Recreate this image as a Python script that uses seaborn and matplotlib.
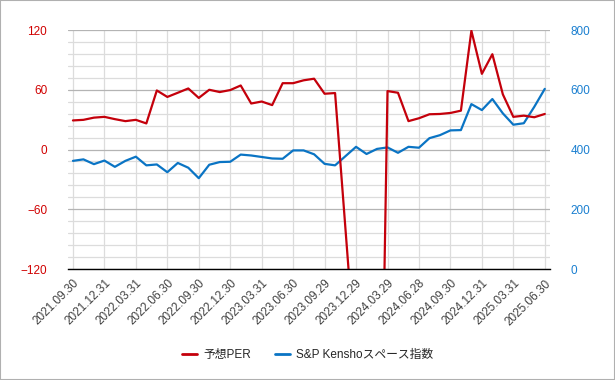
import numpy as np
import pandas as pd
import seaborn as sns
import matplotlib.pyplot as plt
from matplotlib.lines import Line2D
from matplotlib.patches import Rectangle
from matplotlib.ticker import MultipleLocator

# quarterly tick labels (data is monthly, 3 points per label)
x_labels = ["2021.09.30", "2021.12.31", "2022.03.31", "2022.06.30", "2022.09.30",
            "2022.12.30", "2023.03.31", "2023.06.30", "2023.09.29", "2023.12.29",
            "2024.03.29", "2024.06.28", "2024.09.30", "2024.12.31", "2025.03.31",
            "2025.06.30"]

# 予想PER (NaN = no value, line joins across it)
per = [29.2, 29.8, 32.0, 32.8, 30.5, 28.5, 29.8, 26.2, 59.3, 52.8,
       57.0, 61.3, 51.8, 60.0, 57.7, 59.7, 64.3, 46.2, 48.2, 44.6,
       66.6, 66.6, 69.5, 71.1, 56.0, 56.7, np.nan, -219, -400, -565,
       58.7, 57.0, 28.5, 31.4, 35.4, 35.7, 36.7, 39.0, 119.3, 76.0,
       95.7, 55.4, 32.8, 34.0, 32.4, 35.7]

# S&P Kensho space index
index_vals = [362, 367, 351, 363, 342, 362, 376, 347, 350, 324,
              355, 339, 304, 349, 358, 359, 383, 380, 375, 370,
              369, 397, 397, 384, 352, 347, 378, 409, 385, 402,
              407, 389, 409, 406, 438, 448, 464, 465, 552, 532,
              569, 521, 483, 488, 543, 603]

RED = "#c4000b"
BLUE = "#0a74c4"

df = pd.DataFrame({"pos": np.arange(len(per)), "per": per, "idx": index_vals})
df_per = df.dropna(subset=["per"])

sns.set_style("white")
plt.rcParams["font.family"] = ["Liberation Sans", "Noto Sans CJK JP", "DejaVu Sans"]

fig = plt.figure(figsize=(6.15, 3.8), dpi=100)
ax2 = fig.add_axes([0.1106, 0.2921, 0.7829, 0.6289])
ax = ax2.twinx()
ax.yaxis.tick_left()
ax2.yaxis.tick_right()

# blue on the lower axes, grid lives there too
sns.lineplot(data=df, x="pos", y="idx", ax=ax2, color=BLUE, linewidth=1.6)
sns.lineplot(data=df_per, x="pos", y="per", ax=ax, color=RED, linewidth=1.6)

ax2.set_ylim(0, 800)
ax2.yaxis.set_major_locator(MultipleLocator(200))
ax2.yaxis.set_minor_locator(MultipleLocator(40))
ax.set_ylim(-120, 120)
ax.yaxis.set_major_locator(MultipleLocator(60))

ax2.set_xlim(-0.47, len(per) - 1 + 0.45)
ax2.set_xticks(np.arange(0, len(per), 3))
ax2.set_xticklabels(x_labels, rotation=45, ha="right", rotation_mode="anchor",
                    fontsize=8.5, color="#404040")
ax2.tick_params(axis="x", length=0, pad=6)

ax2.grid(True, which="major", axis="y", color="#b4b4b4", linewidth=0.9)
ax2.grid(True, which="minor", axis="y", color="#dcdcdc", linewidth=0.9)
ax2.grid(True, which="major", axis="x", color="#dcdcdc", linewidth=0.9)
ax2.set_axisbelow(True)

ax2.tick_params(axis="y", which="both", length=0, pad=15, labelsize=8.5, labelcolor="#1a7fd0",
                labelright=True, labelleft=False)
ax.tick_params(axis="y", which="both", length=0, pad=15, labelsize=8.5, labelcolor="#d00000",
               labelleft=True, labelright=False)

for a in (ax, ax2):
    a.set_xlabel("")
    a.set_ylabel("")
    for s in a.spines.values():
        s.set_visible(False)
ax.spines["bottom"].set_visible(True)
ax.spines["bottom"].set_color("black")
ax.spines["bottom"].set_linewidth(1.0)

ax.set_zorder(ax2.get_zorder() + 1)
ax.patch.set_visible(False)

handles = [Line2D([], [], color=RED, linewidth=2),
           Line2D([], [], color=BLUE, linewidth=2)]
fig.legend(handles, ["予想PER", "S&P Kenshoスペース指数"], loc="center",
           bbox_to_anchor=(0.5, 0.066), ncol=2, frameon=False, fontsize=8.5,
           handlelength=1.3, handletextpad=0.5, columnspacing=2.0)

fig.patches.append(Rectangle((0, 0), 1, 1, transform=fig.transFigure, fill=False,
                             edgecolor="#b0b0b0", linewidth=1.5))

fig.savefig("out.png", dpi=100)
